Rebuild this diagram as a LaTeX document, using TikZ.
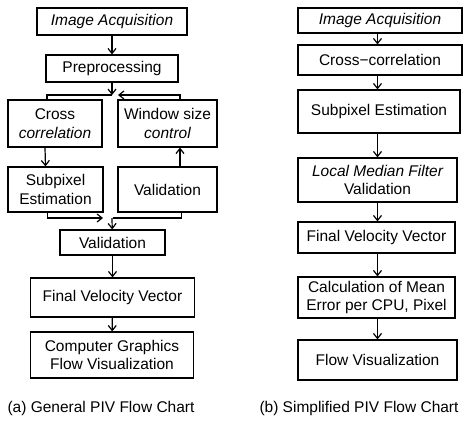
\documentclass[tikz,border=0pt]{standalone}
\usepackage{fontspec}
\setmainfont{Liberation Sans}
\usepackage{tikz}
\usetikzlibrary{arrows.meta,positioning,calc}
\tikzset{
  stage/.style={
    draw, line width=1.2pt, align=center, inner sep=1pt,
    font=\fontsize{15.5}{18.5}\selectfont
  },
  caption/.style={
    inner sep=0pt, font=\fontsize{15.5}{18.5}\selectfont
  },
  flow/.style={-{Straight Barb[length=5pt,width=8pt]}, line width=1.2pt},
  link/.style={line width=1.2pt}
}

\begin{document}
\begin{tikzpicture}[x=1pt,y=-1pt]
  \useasboundingbox (0,0) rectangle (464,429);

  % (a) General PIV flow chart
  \node[stage,minimum width=150pt,minimum height=27pt] (acq) at (112,21.5)
    {\itshape Image Acquisition};
  \node[stage,minimum width=132pt,minimum height=27pt] (pre) at (112,68.5)
    {Preprocessing};
  \node[stage,minimum width=94pt,minimum height=47pt] (cross) at (55,123.5)
    {Cross\\\itshape correlation};
  \node[stage,minimum width=99pt,minimum height=47pt] (win) at (167.5,123.5)
    {Window size\\\itshape control};
  \node[stage,minimum width=95pt,minimum height=45pt] (sub) at (55.5,189.5)
    {Subpixel\\Estimation};
  \node[stage,minimum width=99pt,minimum height=45pt] (loopval) at (167.5,189.5)
    {Validation};
  \node[stage,minimum width=105pt,minimum height=25pt] (val) at (112.5,242.5)
    {Validation};
  \node[stage,minimum width=164pt,minimum height=39pt] (fvv) at (112.5,297.5)
    {Final Velocity Vector};
  \node[stage,minimum width=163pt,minimum height=46pt] (cg) at (112,355)
    {Computer Graphics\\Flow Visualization};
  \node[caption] (capa) at (101,408) {(a) General PIV Flow Chart};

  % (b) Simplified PIV flow chart
  \node[stage,minimum width=164pt,minimum height=25pt] (racq) at (380,20.5)
    {\itshape Image Acquisition};
  \node[stage,minimum width=164pt,minimum height=30pt] (rcross) at (380,60)
    {Cross−correlation};
  \node[stage,minimum width=162pt,minimum height=43pt] (rsub) at (379,111.5)
    {Subpixel Estimation};
  \node[stage,minimum width=159pt,minimum height=44pt] (rlmf) at (377.5,180)
    {\itshape Local Median Filter\\Validation};
  \node[stage,minimum width=157pt,minimum height=31pt] (rfvv) at (376.5,237.5)
    {Final Velocity Vector};
  \node[stage,minimum width=157pt,minimum height=41pt] (rcalc) at (376.5,297.5)
    {Calculation of Mean\\Error per CPU, Pixel};
  \node[stage,minimum width=159pt,minimum height=40pt] (rflow) at (377.5,360)
    {Flow Visualization};
  \node[caption] (capb) at (359,408) {(b) Simplified PIV Flow Chart};

  % junctions of the loop in (a)
  \coordinate (split) at (112,95);
  \coordinate (merge) at (112,218);

  % Main stream of (a)
  \draw[flow] (acq) -- (pre);
  \draw[flow] (pre) -- (split);
  \draw[link] (split) -| ([xshift=-8pt]cross.north);
  \draw[flow] ([xshift=12.5pt]win.north) |- ([xshift=6pt]split);
  \draw[flow] ([xshift=-10pt]cross.south) -- ([xshift=-10pt]sub.north);
  \draw[flow] ([xshift=12.5pt]loopval.north) -- ([xshift=12.5pt]win.south);
  \draw[flow] ([xshift=-8pt]sub.south) |- ([xshift=-9pt]merge);
  \draw[link] ([xshift=14pt]loopval.south) |- ([xshift=1pt]merge);
  \draw[flow] (merge) -- (val);
  \draw[flow] (val) -- (fvv);
  \draw[flow] (fvv) -- (cg);

  % Main stream of (b)
  \draw[flow] (racq.south -| rlmf) -- (rcross.north -| rlmf);
  \draw[flow] (rcross.south -| rlmf) -- (rsub.north -| rlmf);
  \draw[flow] (rsub.south -| rlmf) -- (rlmf.north);
  \draw[flow] (rlmf.south) -- (rfvv.north -| rlmf);
  \draw[flow] (rfvv.south -| rlmf) -- (rcalc.north -| rlmf);
  \draw[flow] (rcalc.south -| rlmf) -- (rflow.north);
\end{tikzpicture}
\end{document}
